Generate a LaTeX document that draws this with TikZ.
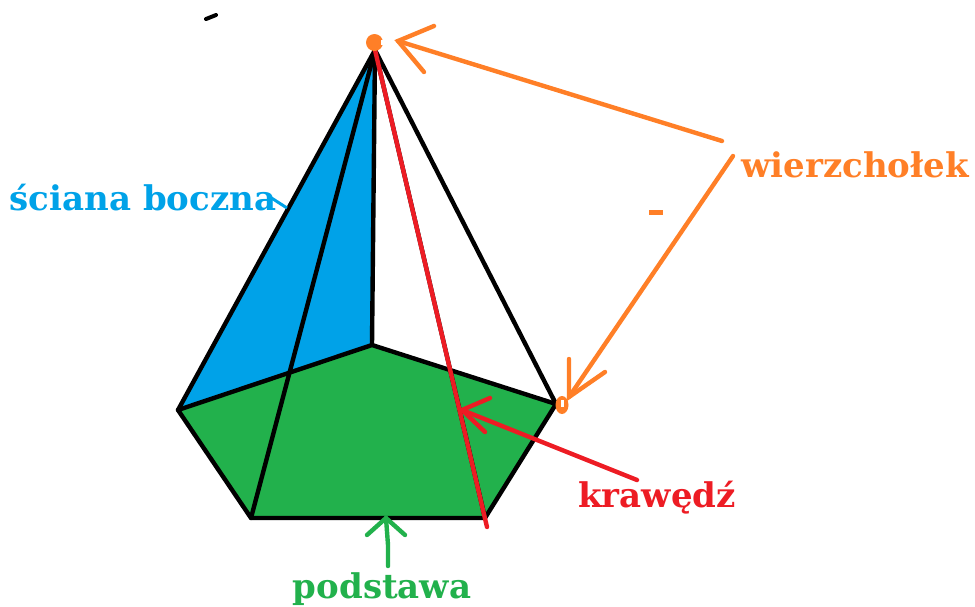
\documentclass[tikz,border=0pt]{standalone}
\usepackage{fontspec}
\setmainfont{DejaVu Serif}
\definecolor{cblue}{HTML}{00A2E8}
\definecolor{cgreen}{HTML}{22B14C}
\definecolor{cred}{HTML}{ED1C24}
\definecolor{corange}{HTML}{FF7F27}
\tikzset{
  edgeline/.style={black,line width=4.4pt,line cap=round,line join=round},
  handline/.style={line width=4.4pt,line cap=round,line join=miter},
  lab/.style={inner sep=0pt,font=\bfseries\fontsize{34}{40}\selectfont,anchor=center}
}
\begin{document}
\begin{tikzpicture}[x=1pt,y=-1pt]
\useasboundingbox (0,0) rectangle (975,606);
\coordinate (S) at (375,50);
\coordinate (A) at (178,410);
\coordinate (B) at (251,518);
\coordinate (C) at (485,518);
\coordinate (D) at (556,404);
\coordinate (E) at (372,345);
\coordinate (Rend) at (487,527);
% faces
\fill[cblue] (S) -- (A) -- (E) -- cycle;
\fill[cgreen] (A) -- (B) -- (C) -- (D) -- (E) -- cycle;
% edges
\draw[edgeline] (A) -- (B) -- (C) -- (D) -- (E) -- cycle;
\draw[edgeline] (S) -- (A);
\draw[edgeline] (S) -- (B);
\draw[edgeline] (S) -- (E);
\draw[edgeline] (S) -- (C);
\draw[edgeline] (S) -- (D);
\draw[handline,cred] (S) -- (Rend);
% stray marks
\coordinate (m1) at (206,19); \coordinate (m2) at (216,15);
\draw[black,line width=4pt,line cap=round] (m1) -- (m2);
\coordinate (d1) at (649,212); \coordinate (d2) at (663,212);
\draw[corange,line width=5pt] (d1) -- (d2);
% vertex blobs
\fill[corange] (374.5,42.5) circle (8.5);
\fill[white] (381,40) rectangle (384,45);
\fill[corange] (562,405) ellipse (6.5 and 9);
\fill[white] (561,400) rectangle (564,407);
% labels
\node[lab,text=cblue] (sb) at (143,198) {ściana boczna};
\node[lab,text=corange] (w) at (855,165) {wierzchołek};
\node[lab,text=cred] (k) at (657,498) {krawędź};
\node[lab,text=cgreen] (p) at (382,589) {podstawa};
% connectors
\coordinate (sbT) at (287,208);
\draw[cblue,line width=3pt] (sb.east) ++(-5,0) -- (sbT);
\coordinate (wa) at (722,141); \coordinate (wT1) at (398,41);
\draw[handline,corange] (wa) -- (wT1);
\coordinate (b1) at (434,26); \coordinate (b2) at (424,72);
\draw[handline,corange] (b1) -- (wT1) -- (b2);
\coordinate (wb) at (733,156); \coordinate (wT2) at (569,397);
\draw[handline,corange] (wb) -- (wT2);
\coordinate (b3) at (569,359); \coordinate (b4) at (605,372);
\draw[handline,corange] (b3) -- (wT2) -- (b4);
\coordinate (ka) at (637,480); \coordinate (kT) at (462,410);
\draw[handline,cred] (ka) -- (kT);
\coordinate (b5) at (490,398); \coordinate (b6) at (485,432);
\draw[handline,cred] (b5) -- (kT) -- (b6);
\coordinate (pa) at (388,566); \coordinate (pT) at (386,518);
\draw[handline,cgreen] (pa) -- (388,545) -- (pT);
\coordinate (b7) at (367,535); \coordinate (b8) at (405,535);
\draw[handline,cgreen] (b7) -- (pT) -- (b8);
\end{tikzpicture}
\end{document}
